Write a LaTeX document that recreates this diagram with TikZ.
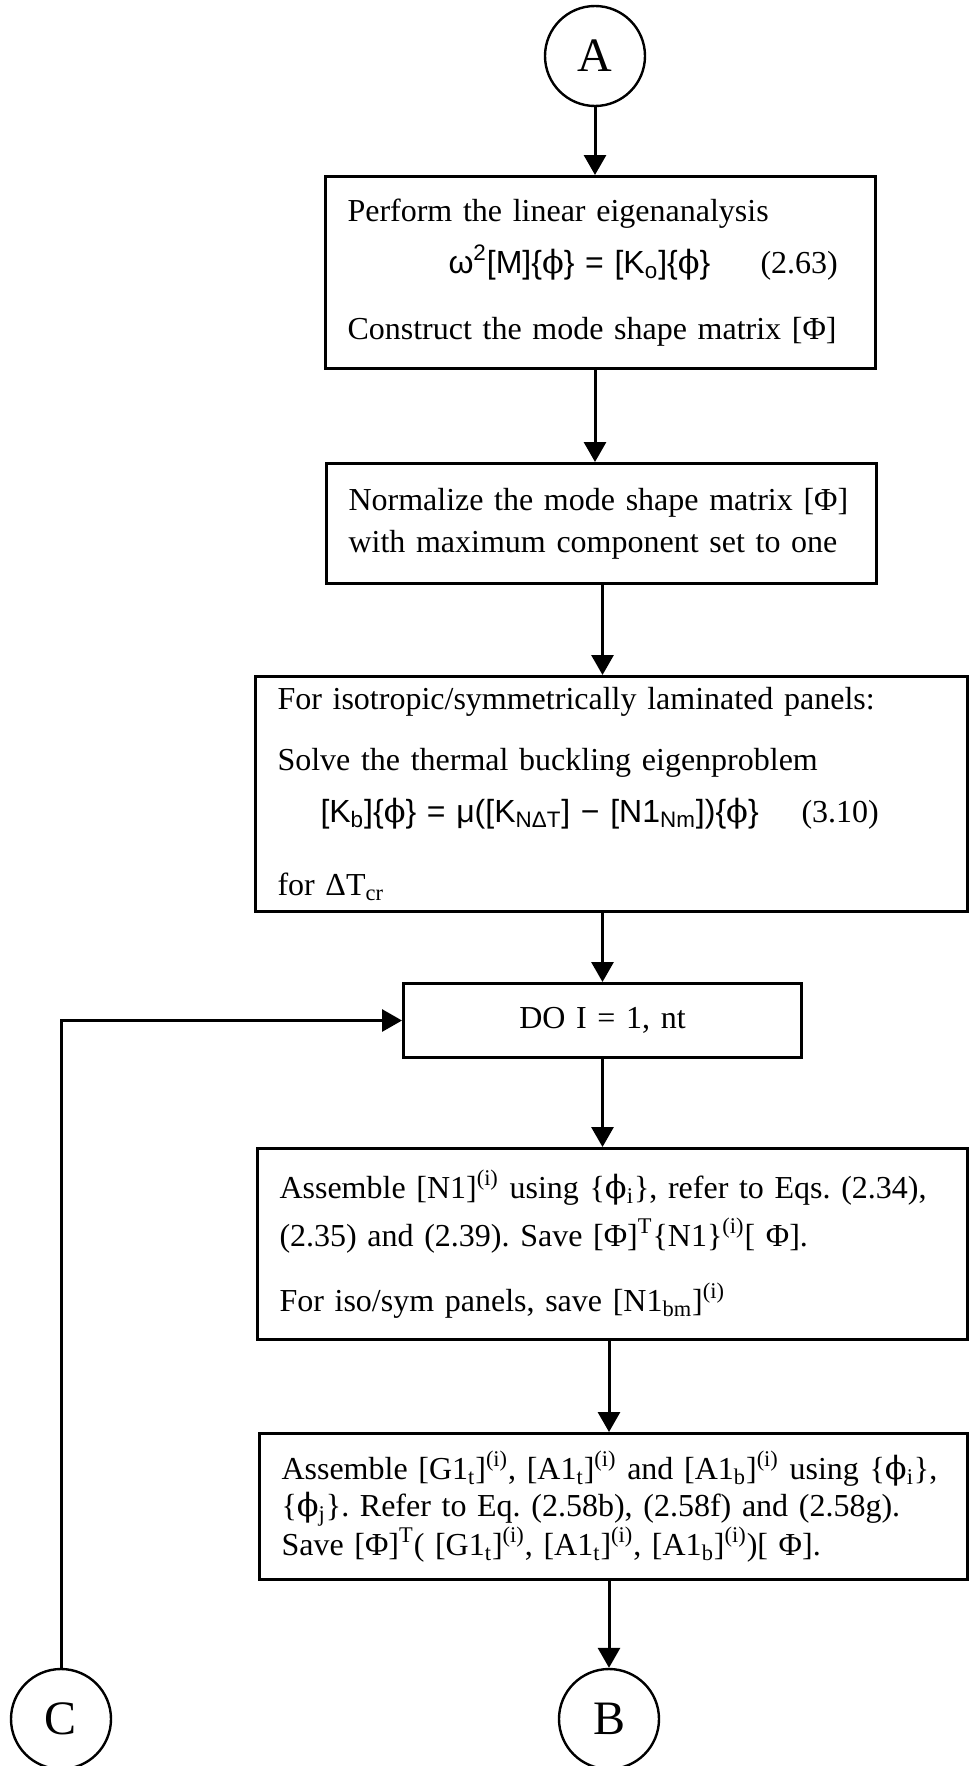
\documentclass[tikz,border=0pt]{standalone}
\usepackage{fontspec}
\setmainfont{Liberation Serif}
\newfontfamily\eqf{Liberation Sans}
\newfontfamily\grk{DejaVu Serif}
\usetikzlibrary{arrows.meta,positioning}
\newcommand{\phis}{{\grk ϕ}}
\frenchspacing

\begin{document}
\begin{tikzpicture}[x=0.5pt,y=-0.5pt,line width=1.5pt,
  every node/.style={font=\fontsize{16}{19}\selectfont},
  box/.style={draw,rectangle,align=left,anchor=north west,inner ysep=0pt,inner xsep=11pt},
  conn/.style={draw,circle,line width=1.2pt,minimum size=50pt,inner sep=0pt,font=\fontsize{24}{24}\selectfont},
  arr/.style={-{Triangle[length=10pt,width=11pt]}}]
  \useasboundingbox (0,0) rectangle (970,1766);
  \node[conn] (A) at (595,56) {A};
  \node[box,text width=253pt,minimum height=96pt] (eig) at (324,175)
    {Perform the linear eigenanalysis\\[7pt]
     \hspace*{50.5pt}\makebox[156pt][l]{\eqf ω\textsuperscript{2}[M]\{\phis\} = [K\textsubscript{o}]\{\phis\}}(2.63)\\[14pt]
     Construct the mode shape matrix [Φ]};
  \node[box,text width=253pt,minimum height=60pt] (norm) at (325,462)
    {\mbox{Normalize the mode shape matrix [Φ]}\\[2pt]
     with maximum component set to one};
  \node[box,text width=334pt,minimum height=117.5pt] (therm) at (254,675)
    {For isotropic/symmetrically laminated panels:\\[11.5pt]
     Solve the thermal buckling eigenproblem\\[7pt]
     \hspace*{21.5pt}\makebox[240.5pt][l]{\eqf [K\textsubscript{b}]\{\phis\} = μ([K\textsubscript{NΔT}] − [N1\textsubscript{Nm}])\{\phis\}}(3.10)\\[17.5pt]
     for ΔT\textsubscript{cr}};
  \node[box,align=center,text width=177pt,minimum height=37pt] (do) at (402,982) {DO I = 1, nt};
  \node[box,text width=333pt,minimum height=95.5pt] (asm) at (256,1147)
    {\mbox{Assemble [N1]\textsuperscript{(i)} using \{\phis\textsubscript{i}\}, refer to Eqs. (2.34),}\\[5pt]
     (2.35) and (2.39). Save [Φ]\textsuperscript{T}\{N1\}\textsuperscript{(i)}[ Φ].\\[13.5pt]
     For iso/sym panels, save [N1\textsubscript{bm}]\textsuperscript{(i)}};
  \node[box,text width=332pt,minimum height=73pt] (asmg) at (258,1432)
    {\mbox{Assemble [G1\textsubscript{t}]\textsuperscript{(i)}, [A1\textsubscript{t}]\textsuperscript{(i)} and [A1\textsubscript{b}]\textsuperscript{(i)} using \{\phis\textsubscript{i}\},}\\[-0.5pt]
     \{\phis\textsubscript{j}\}. Refer to Eq. (2.58b), (2.58f) and (2.58g).\\[-0.5pt]
     Save [Φ]\textsuperscript{T}( [G1\textsubscript{t}]\textsuperscript{(i)}, [A1\textsubscript{t}]\textsuperscript{(i)}, [A1\textsubscript{b}]\textsuperscript{(i)})[ Φ].};
  \node[conn] (C) at (61,1719) {C};
  \node[conn] (B) at (609,1719) {B};
  % main line
  \draw[arr] (A) -- (A |- eig.north);
  \draw[arr] (A |- eig.south) -- (A |- norm.north);
  \draw[arr] (do.north |- norm.south) -- (do.north |- therm.north);
  \draw[arr] (do.north |- therm.south) -- (do.north);
  \draw[arr] (do.south) -- (do.south |- asm.north);
  \draw[arr] (B |- asm.south) -- (B |- asmg.north);
  \draw[arr] (B |- asmg.south) -- (B);
  % loop back
  \draw[arr] (C) -- (C |- do.west) -- (do.west);
\end{tikzpicture}
\end{document}
